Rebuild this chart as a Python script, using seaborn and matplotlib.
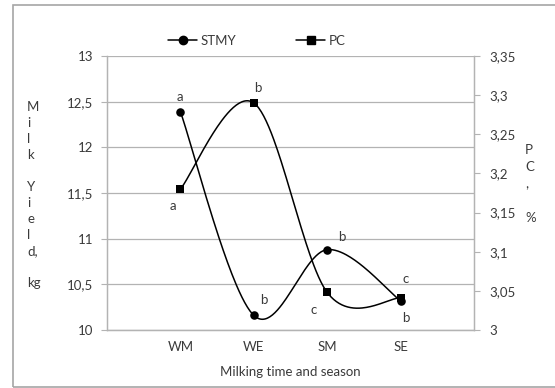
import numpy as np
import pandas as pd
import matplotlib
matplotlib.use("Agg")
import matplotlib.pyplot as plt
import seaborn as sns
from matplotlib.patches import Rectangle
from matplotlib.lines import Line2D

# ---- data ----
categories = ["WM", "WE", "SM", "SE"]
stmy = [12.39, 10.16, 10.88, 10.32]
pc = [3.18, 3.29, 3.048, 3.041]
stmy_letters = ["a", "b", "b", "b"]
pc_letters = ["a", "b", "c", "c"]
left_ticks = [10, 10.5, 11, 11.5, 12, 12.5, 13]
left_labels = ["10", "10,5", "11", "11,5", "12", "12,5", "13"]
right_ticks = [3, 3.05, 3.1, 3.15, 3.2, 3.25, 3.3, 3.35]
right_labels = ["3", "3,05", "3,1", "3,15", "3,2", "3,25", "3,3", "3,35"]

sns.set_style("white")
plt.rcParams['font.family'] = ['Lato', 'DejaVu Sans']

TXT = "#3a3a3a"
GRID = "#b3b3b3"
FS = 9.5


def excel_smooth(x, y, n=60):
    P = np.column_stack([x, y]).astype(float)
    ext = np.vstack([P[0], P, P[-1]])
    out = []
    t = np.linspace(0, 1, n)[:, None]
    for i in range(len(P) - 1):
        p0 = ext[i + 1]
        p1 = ext[i + 2]
        c1 = p0 + (ext[i + 2] - ext[i]) / 6
        c2 = p1 - (ext[i + 3] - ext[i + 1]) / 6
        seg = (1 - t) ** 3 * p0 + 3 * (1 - t) ** 2 * t * c1 + 3 * (1 - t) * t ** 2 * c2 + t ** 3 * p1
        out.append(seg if i == 0 else seg[1:])
    return np.vstack(out)


xpos = np.arange(1, len(categories) + 1)

fig = plt.figure(figsize=(5.55, 3.88), dpi=100)
ax = fig.add_axes([107 / 555, 1 - 330 / 388, (474 - 107) / 555, (330 - 56) / 388])
ax2 = ax.twinx()

# STMY on left axis
c1 = excel_smooth(xpos, stmy)
sns.lineplot(x=c1[:, 0], y=c1[:, 1], sort=False, estimator=None, ax=ax,
             color="black", lw=1.1, legend=False)
sns.scatterplot(x=xpos, y=stmy, ax=ax, marker="o", s=38, color="black",
                edgecolor="black", linewidth=0, zorder=5, legend=False)

# PC on right axis
c2 = excel_smooth(xpos, pc)
sns.lineplot(x=c2[:, 0], y=c2[:, 1], sort=False, estimator=None, ax=ax2,
             color="black", lw=1.1, legend=False)
sns.scatterplot(x=xpos, y=pc, ax=ax2, marker="s", s=36, color="black",
                edgecolor="black", linewidth=0, zorder=5, legend=False)

# axes styling
ax.set_xlim(0, 5)
ax.set_ylim(10, 13)
ax2.set_ylim(3, 3.35)
ax.set_xticks(xpos)
ax.set_xticklabels(categories)
ax.set_yticks(left_ticks)
ax.set_yticklabels(left_labels)
ax2.set_yticks(right_ticks)
ax2.set_yticklabels(right_labels)
ax.yaxis.grid(True, color=GRID, lw=0.9)
ax.set_axisbelow(True)
ax.tick_params(axis="x", length=0, labelsize=FS, labelcolor=TXT, pad=8)
ax.tick_params(axis="y", length=4, width=0.8, color=GRID, labelsize=FS, labelcolor=TXT, pad=6)
ax2.tick_params(axis="y", length=4, width=0.8, color=GRID, labelsize=FS, labelcolor=TXT, pad=7)
for a in (ax, ax2):
    a.set_xlabel("")
    a.set_ylabel("")
    a.spines["top"].set_visible(False)
    for s in ("left", "right", "bottom"):
        a.spines[s].set_color(GRID)
        a.spines[s].set_linewidth(0.9)
ax.set_xlabel("Milking time and season", fontsize=FS, color=TXT, labelpad=9)

# letter annotations (offsets in pixels)
stmy_off = [(0, 15), (10, 15), (15, 13), (5, -17)]
pc_off = [(-7, -17), (4, 15), (-14, -18), (5, 19)]
for xv, yv, lab, off in zip(xpos, stmy, stmy_letters, stmy_off):
    ax.annotate(lab, (xv, yv), xytext=off, textcoords="offset pixels",
                ha="center", va="center", fontsize=FS, color=TXT)
for xv, yv, lab, off in zip(xpos, pc, pc_letters, pc_off):
    ax2.annotate(lab, (xv, yv), xytext=off, textcoords="offset pixels",
                 ha="center", va="center", fontsize=FS, color=TXT)

# vertical axis titles (stacked letters)
fig.text(27 / 555, 1 - 195 / 388, "M\ni\nl\nk\n\nY\ni\ne\nl\nd,\n\nkg",
         fontsize=FS, color=TXT, ha="left", va="center", linespacing=1.4)
fig.text(525 / 555, 1 - 184 / 388, "P\nC\n,\n\n%",
         fontsize=FS, color=TXT, ha="left", va="center", linespacing=1.5)

# legend
h1 = Line2D([], [], color="black", marker="o", markersize=6, lw=1.1)
h2 = Line2D([], [], color="black", marker="s", markersize=5.5, lw=1.1)
leg = fig.legend([h1, h2], ["STMY", "PC"], loc="center", ncol=2,
                 bbox_to_anchor=(257 / 555, 1 - 41 / 388), frameon=False,
                 fontsize=FS, handlelength=2.2, handletextpad=0.25,
                 columnspacing=4.55, labelcolor=TXT)

# outer border
fig.patches.append(Rectangle((12.5 / 555, 1 / 388), 1.0, (386 - 3.5) / 388,
                             transform=fig.transFigure, fill=False,
                             edgecolor="#a6a6a6", lw=1.2))

fig.savefig("out.png", dpi=100)
